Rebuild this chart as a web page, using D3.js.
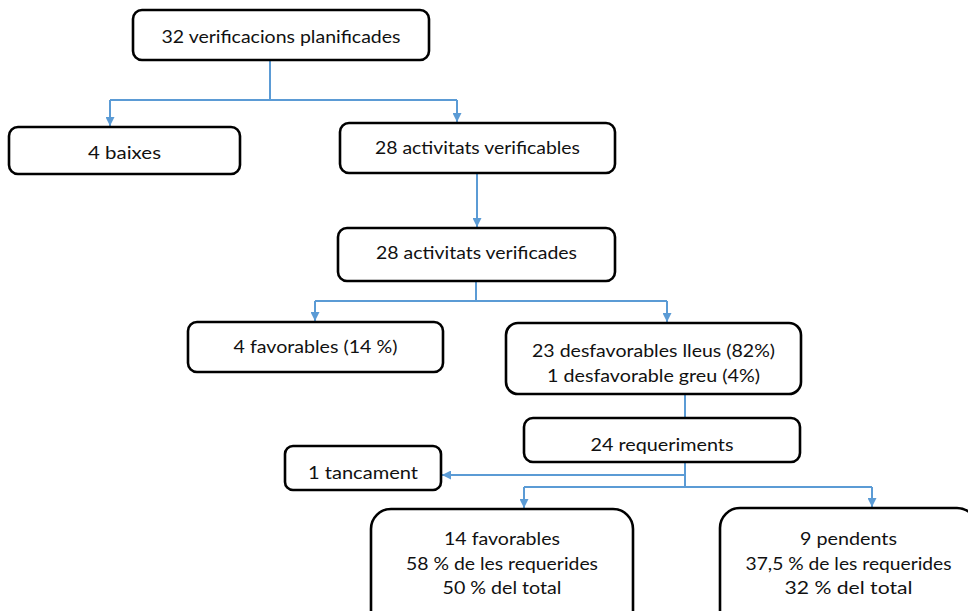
<!DOCTYPE html>
<html>
<head>
<meta charset="utf-8">
<script src="https://cdn.jsdelivr.net/npm/d3@7"></script>
<style>
  body { margin: 0; background: #fff; }
  svg { display: block; }
  .box { fill: #fff; stroke: #000; stroke-width: 2.6; }
  .label { font-family: Lato, "Open Sans", sans-serif; font-size: 18px; fill: #111; }
  .link { fill: none; stroke: #5b9bd5; stroke-width: 2; }
</style>
</head>
<body>
<svg width="968" height="611"></svg>
<script>
// node ids, top to bottom
const nodeIds = ["planificades", "baixes", "verificables", "verificades", "favorables",
  "desfavorables", "requeriments", "tancament", "favorables2", "pendents"];

// text of each box (one entry per line)
const nodeLines = [
  ["32 verificacions planificades"],
  ["4 baixes"],
  ["28 activitats verificables"],
  ["28 activitats verificades"],
  ["4 favorables (14 %)"],
  ["23 desfavorables lleus (82%)", "1 desfavorable greu (4%)"],
  ["24 requeriments"],
  ["1 tancament"],
  ["14 favorables", "58 % de les requerides", "50 % del total"],
  ["9 pendents", "37,5 % de les requerides", "32 % del total"]
];

// parent -> children
const links = [
  ["planificades", ["baixes", "verificables"]],
  ["verificables", ["verificades"]],
  ["verificades", ["favorables", "desfavorables"]],
  ["desfavorables", ["requeriments"]],
  ["requeriments", ["tancament"]],
  ["requeriments", ["favorables2", "pendents"]]
];

// ---- layout (pixels) ----
const boxes = {
  planificades:  {x: 133, y: 10,  w: 296, h: 50,  r: 9,  base: [43],            tw: [239]},
  baixes:        {x: 9,   y: 127, w: 231, h: 47,  r: 9,  base: [159],           tw: [73]},
  verificables:  {x: 340, y: 123, w: 275, h: 50,  r: 9,  base: [154],           tw: [205]},
  verificades:   {x: 338, y: 228, w: 277, h: 53,  r: 9,  base: [259],           tw: [201]},
  favorables:    {x: 188, y: 322, w: 255, h: 50,  r: 9,  base: [353],           tw: [164]},
  desfavorables: {x: 506, y: 323, w: 295, h: 71,  r: 12, base: [357, 382],      tw: [243, 213]},
  requeriments:  {x: 524, y: 418, w: 276, h: 44,  r: 9,  base: [451],           tw: [143]},
  tancament:     {x: 285, y: 446, w: 156, h: 44,  r: 8,  base: [479],           tw: [110]},
  favorables2:   {x: 371, y: 509, w: 262, h: 130, r: 20, base: [545, 570, 594], tw: [116, 192, 119]},
  pendents:      {x: 720, y: 508, w: 257, h: 130, r: 20, base: [545, 570, 594], tw: [97, 206, 128]}
};

// connector geometry for each link: stem x, bus y, target x per child
const linkGeom = [
  {sx: 270, by: 100, tx: [110, 457]},
  {sx: 477, by: null, tx: [477]},
  {sx: 476, by: 301, tx: [315, 667]},
  {sx: 685, by: null, tx: [685], noArrow: true},
  {sx: 685, by: 475, side: true},
  {sx: 685, by: 487, tx: [524, 872]}
];

const svg = d3.select("svg");

svg.append("defs").append("marker")
  .attr("id", "arrow")
  .attr("viewBox", "0 0 10 10")
  .attr("refX", 10).attr("refY", 5)
  .attr("markerUnits", "userSpaceOnUse")
  .attr("markerWidth", 9).attr("markerHeight", 9)
  .attr("orient", "auto")
  .append("path")
  .attr("d", "M0,0L10,5L0,10Z")
  .attr("fill", "#5b9bd5");

const line = d3.line();

links.forEach(([from, kids], i) => {
  const g = linkGeom[i];
  const p = boxes[from];
  const bottom = p.y + p.h;
  if (g.side) {
    // stem down then left into the side of the child
    const c = boxes[kids[0]];
    svg.append("path").attr("class", "link")
      .attr("d", line([[g.sx, bottom], [g.sx, g.by], [c.x + c.w + 1, g.by]]))
      .attr("marker-end", "url(#arrow)");
    return;
  }
  if (g.by === null) {
    const c = boxes[kids[0]];
    svg.append("path").attr("class", "link")
      .attr("d", line([[g.sx, bottom], [g.tx[0], c.y - (g.noArrow ? 0 : 1)]]))
      .attr("marker-end", g.noArrow ? null : "url(#arrow)");
    return;
  }
  svg.append("path").attr("class", "link")
    .attr("d", line([[g.sx, bottom], [g.sx, g.by]]));
  svg.append("path").attr("class", "link")
    .attr("d", line([[d3.min(g.tx), g.by], [d3.max(g.tx), g.by]]));
  kids.forEach((k, j) => {
    const c = boxes[k];
    svg.append("path").attr("class", "link")
      .attr("d", line([[g.tx[j], g.by], [g.tx[j], c.y - 1]]))
      .attr("marker-end", "url(#arrow)");
  });
});

const nodes = svg.selectAll("g.node")
  .data(nodeIds.map((id, i) => ({id, lines: nodeLines[i], b: boxes[id]})))
  .join("g").attr("class", "node");

nodes.append("rect").attr("class", "box")
  .attr("x", d => d.b.x).attr("y", d => d.b.y)
  .attr("width", d => d.b.w).attr("height", d => d.b.h)
  .attr("rx", d => d.b.r).attr("ry", d => d.b.r);

nodes.each(function(d) {
  d3.select(this).selectAll("text")
    .data(d.lines)
    .join("text")
    .attr("class", "label")
    .attr("x", d.b.x + d.b.w / 2)
    .attr("y", (t, i) => d.b.base[i])
    .attr("text-anchor", "middle")
    .attr("textLength", (t, i) => d.b.tw[i])
    .attr("lengthAdjust", "spacingAndGlyphs")
    .text(t => t);
});
</script>
</body>
</html>
